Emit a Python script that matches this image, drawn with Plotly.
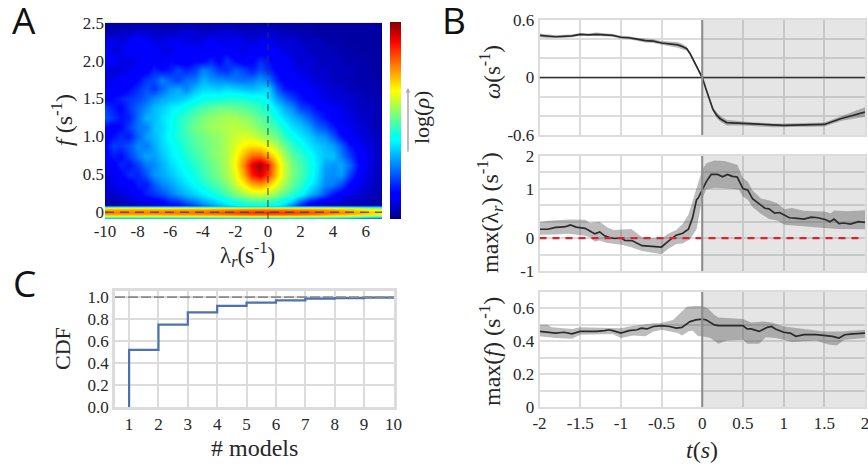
import plotly.graph_objects as go

# ---------- Panel A data ----------
A_X = [-10,-9.5,-9,-8.5,-8,-7.5,-7,-6.5,-6,-5.5,-5,-4.5,-4,-3.5,-3,-2.5,-2,-1.5,-1,-.5,0,.5,1,1.5,2,2.5,3,3.5,4,4.5,5,5.5,6,6.5,7]
A_Y = [2.5,2.375,2.25,2.125,2.0,1.875,1.75,1.625,1.5,1.375,1.25,1.125,1.0,.875,.75,.625,.5,.375,.25,.125,.075]
A_Z = [
[3,3,3,3,4,4,4,4,3,3,4,4,3,3,4,4,3,3,3,4,3,3,3,3,3,3,3,3,3,3,3,3,3,3,3],
[4,5,6,6,7,7,6,6,6,7,8,7,6,6,7,8,7,6,6,6,8,6,5,5,4,4,3,3,3,3,3,3,3,3,3],
[9,10,8,12,14,11,9,9,11,10,9,8,10,12,10,9,11,9,8,10,10,8,7,8,6,5,6,4,4,4,3,3,3,3,3],
[12,8,9,13,10,14,12,9,8,12,11,13,10,11,13,12,10,9,12,11,12,11,9,7,8,6,5,6,5,4,4,3,3,3,3],
[11,12,9,8,10,13,12,10,14,11,10,14,13,17,13,19,14,11,13,18,15,10,12,9,7,8,6,5,6,5,4,4,4,3,3],
[9,7,8,10,12,11,17,14,16,21,17,20,27,24,19,18,23,20,16,21,18,13,11,10,9,8,6,7,5,6,5,4,4,3,3],
[8,10,13,11,14,19,21,27,23,20,25,26,32,29,28,27,26,25,26,29,26,17,12,12,10,9,8,7,6,5,5,4,4,4,3],
[10,12,10,14,18,22,19,24,29,31,27,33,36,36,35,37,35,34,33,35,36,24,16,14,13,11,9,8,7,7,5,5,4,4,3],
[12,14,17,19,21,24,28,31,33,34,36,40,42,43,43,44,45,44,43,42,39,31,25,20,15,13,11,9,8,8,7,6,5,5,4],
[20,16,13,19,24,28,33,35,38,40,43,46,48,50,52,52,51,50,48,46,43,38,32,28,20,18,14,13,11,9,8,6,6,5,4],
[22,19,15,17,25,32,33,37,40,44,47,50,53,55,56,57,57,55,53,50,47,42,37,33,29,24,19,15,12,10,9,7,6,5,4],
[14,12,14,20,26,27,34,36,40,44,48,52,54,56,57,58,59,58,56,53,50,47,42,37,34,30,24,21,16,11,10,8,7,5,4],
[12,15,18,16,24,30,33,37,41,44,47,50,52,54,55,58,60,62,61,58,55,52,46,42,38,35,31,29,23,15,11,9,7,6,4],
[13,20,19,22,28,26,31,36,39,42,46,49,51,53,55,58,62,66,68,67,63,58,52,46,42,38,35,33,30,24,16,12,9,7,5],
[12,16,14,20,26,31,30,34,38,41,44,47,50,53,55,58,64,73,80,80,74,66,57,50,46,42,37,34,34,27,20,13,10,7,5],
[10,12,17,15,20,26,28,32,36,39,42,45,48,51,54,58,65,78,92,98,88,72,60,53,48,43,38,31,29,31,25,15,10,7,5],
[8,10,13,18,17,22,29,31,34,37,40,43,47,50,53,57,63,74,88,93,85,71,60,53,48,43,37,29,28,30,21,12,9,7,5],
[8,9,12,11,17,16,23,28,30,34,37,41,44,47,50,54,60,67,74,76,72,64,57,51,46,40,35,28,27,22,14,10,8,6,4],
[7,6,8,10,12,17,19,22,26,30,33,36,39,42,45,49,53,57,60,61,59,55,50,46,41,34,29,22,16,12,9,8,6,5,4],
[4,4,5,6,7,8,10,12,16,17,22,26,30,33,36,39,42,44,46,46,45,43,39,33,22,14,10,8,7,6,5,5,5,4,4],
[5,4,5,5,6,6,7,8,11,12,14,17,23,27,31,34,37,39,40,41,40,38,33,24,13,9,7,6,6,5,5,5,4,4,4],
]
BAND_X = [-10,-9,-8,-7,-6,-5,-4,-3,-2,-1,0,1,2,3,4,5,6,7]
BAND_Y = [.072,.06,.045,0,-.03,-.055,-.07,-.09]
BAND_Z = [
[33,33,33,33,33,34,34,35,35,36,36,36,35,34,33,32,31,30],
[58,58,58,58,58,58,59,60,60,61,61,61,60,59,58,55,50,46],
[73,73,73,73,73,74,74,75,76,77,77,77,76,75,73,70,66,62],
[78,78,78,78,79,79,80,82,84,85,86,85,84,82,79,76,72,69],
[74,74,74,74,75,75,76,77,79,80,80,80,79,77,74,72,68,65],
[62,61,61,61,62,62,63,63,64,65,65,65,64,63,61,58,52,48],
[44,44,44,44,44,45,45,46,46,47,47,47,46,45,44,40,36,33],
[22,22,22,22,22,22,23,23,23,24,24,24,23,22,22,18,14,11],
]
A_XTICKS = [-10,-8,-6,-4,-2,0,2,4,6]
A_XTEXT = ["-10","-8","-6","-4","-2","0","2","4","6"]
A_YTICKS = [0,.5,1,1.5,2,2.5]
A_YTEXT = ["0","0.5","1.0","1.5","2.0","2.5"]

# ---------- Panel B data ----------
OM_T = [-2,-1.9,-1.8,-1.7,-1.6,-1.5,-1.4,-1.3,-1.2,-1.1,-1,-.9,-.8,-.7,-.6,-.5,-.4,-.3,-.25,-.19,-.15,-.11,-.05,0,.05,.09,.13,.175,.22,.3,.5,.875,1.0,1.5,1.7,2]
OM_V = [.44,.43,.425,.43,.435,.45,.445,.45,.445,.44,.42,.415,.40,.385,.38,.36,.35,.34,.325,.30,.25,.18,.09,0,-.13,-.24,-.33,-.39,-.43,-.47,-.48,-.50,-.50,-.49,-.43,-.36]
OM_ERR = [.02,.02,.015,.015,.015,.015,.015,.02,.015,.015,.015,.015,.015,.02,.02,.02,.025,.03,.03,.02,.01,.01,.01,.01,.01,.01,.015,.03,.03,.03,.02,.02,.02,.02,.025,.05]

LAM_T = [-2,-1.9,-1.8,-1.7,-1.65,-1.62,-1.55,-1.44,-1.38,-1.32,-1.26,-1.2,-1.13,-1.07,-1,-.95,-.86,-.8,-.74,-.66,-.5,-.42,-.32,-.24,-.17,-.12,-.07,-.05,0,.05,.11,.19,.25,.31,.37,.43,.5,.56,.62,.7,.77,.82,.89,.95,1.01,1.07,1.17,1.25,1.34,1.42,1.52,1.57,1.62,1.68,1.74,1.82,1.92,2]
LAM_V = [.27,.27,.33,.34,.375,.40,.335,.30,.22,.13,.19,.07,.01,-.01,.01,-.07,-.08,-.15,-.23,-.24,-.27,-.10,.09,.15,.27,.61,1.17,1.22,1.49,1.72,1.94,1.94,1.87,1.94,1.88,1.86,1.51,1.46,1.19,1.03,.91,.89,.76,.78,.71,.62,.60,.58,.64,.62,.56,.50,.58,.44,.46,.43,.50,.48]
LAM_UP_T = [-2,-1.89,-1.64,-1.44,-1.38,-1.26,-1.17,-1.09,-.87,-.8,-.74,-.5,-.42,-.32,-.24,-.17,-.11,-.05,0,.05,.15,.27,.36,.43,.5,.56,.62,.72,.82,.92,1.01,1.1,1.25,1.5,1.58,1.62,1.78,2]
LAM_UP = [.48,.53,.57,.56,.46,.50,.33,.25,.28,.15,.03,-.02,.13,.25,.44,.71,1.17,1.67,2.08,2.28,2.36,2.35,2.28,2.23,1.83,1.72,1.45,1.21,1.15,1.06,.88,.92,.83,.81,.76,.84,.82,.85]
LAM_LO_T = [-2,-1.81,-1.64,-1.44,-1.38,-1.32,-1.26,-1.17,-.99,-.87,-.74,-.5,-.42,-.32,-.24,-.15,-.07,-.03,0,.05,.15,.36,.45,.5,.56,.62,.72,.82,.92,1.01,1.17,1.5,1.67,2]
LAM_LO = [.10,.11,.13,.07,.03,-.11,-.07,-.15,-.20,-.28,-.39,-.49,-.33,-.18,-.16,-.03,.27,.75,1.2,1.49,1.53,1.50,1.47,1.27,1.17,.94,.74,.58,.54,.41,.38,.31,.28,.27]
LAM_TICKS = [-1,0,1.5,2.5]
LAM_TEXT = ["-1","0","1","2"]

FM_T = [-2,-1.9,-1.8,-1.7,-1.6,-1.5,-1.4,-1.3,-1.2,-1.15,-1.1,-1,-.9,-.8,-.75,-.68,-.6,-.5,-.4,-.32,-.25,-.15,-.08,0,.05,.15,.2,.5,.55,.6,.7,.8,.85,.9,1,1.08,1.15,1.25,1.4,1.5,1.6,1.68,1.75,1.85,2]
FM_V = [.46,.455,.45,.455,.445,.46,.46,.46,.465,.47,.465,.45,.465,.47,.48,.475,.49,.495,.49,.48,.485,.52,.53,.535,.53,.50,.495,.495,.475,.475,.46,.485,.49,.475,.455,.45,.43,.44,.44,.435,.43,.42,.44,.445,.45]
FM_UP_T = [-2,-1.9,-1.85,-1.6,-1.5,-1,-.9,-.6,-.52,-.36,-.19,-.1,0,.07,.15,.2,.5,.6,.75,.85,1,1.3,1.5,1.7,2]
FM_UP = [.50,.50,.485,.475,.485,.48,.49,.51,.51,.53,.61,.615,.615,.60,.56,.545,.535,.515,.52,.515,.49,.47,.46,.46,.47]
FM_LO_T = [-2,-1.8,-1.6,-1.5,-1.1,-1,-.85,-.7,-.6,-.5,-.3,-.25,-.17,-.12,-.05,0,.1,.2,.3,.5,.55,.7,.78,.9,1,1.1,1.2,1.4,1.55,1.65,1.75,2]
FM_LO = [.43,.42,.415,.44,.445,.42,.435,.43,.46,.47,.45,.435,.46,.465,.43,.43,.42,.385,.405,.41,.385,.385,.425,.42,.41,.395,.40,.405,.38,.375,.41,.42]

T_TICKS = [-2,-1.5,-1,-.5,0,.5,1,1.5,2]
T_TEXT = ["-2","-1.5","-1","-0.5","0","0.5","1","1.5","2"]

# ---------- Panel C data ----------
N_MODELS = [1,1,2,3,4,5,6,7,8,9,10]
CDF = [0,.52,.75,.86,.92,.95,.97,.985,.99,.995,1.0]
C_YTICKS = [0,.2,.4,.6,.8,1.0]
C_YTEXT = ["0.0","0.2","0.4","0.6","0.8","1.0"]

W, H = 868, 466
SERIF = "Liberation Serif"
TXT = "#262626"
GRID = "#dcdcdc"
BAND = "rgba(70,70,70,0.36)"
LINE = "#2b2b2b"

JET = [[0,"#00007f"],[.11,"#0000ff"],[.135,"#0000ff"],[.40,"#00ffff"],[.42,"#02ffed"],[.65,"#ffff00"],[.67,"#ffee00"],[.90,"#ff0000"],[1,"#7f0000"]]

def dx(a, b):
    return [a / W, b / W]
def dy(top, bot):
    return [1 - bot / H, 1 - top / H]

fig = go.Figure()

# Panel A
fig.add_trace(go.Heatmap(x=A_X, y=A_Y, z=A_Z, zmin=0, zmax=100, colorscale=JET, zsmooth="best", xaxis="x", yaxis="y",
    hoverinfo="skip",
    colorbar=dict(x=390/W, xanchor="left", xref="paper", y=1-219/H, yanchor="bottom", yref="paper", len=196.5/H, lenmode="fraction",
                  thickness=11, xpad=0, ypad=0, outlinewidth=0, ticks="", showticklabels=False)))
fig.add_trace(go.Heatmap(x=BAND_X, y=BAND_Y, z=BAND_Z, zmin=0, zmax=100, colorscale=JET, zsmooth="best", xaxis="x", yaxis="y",
    showscale=False, hoverinfo="skip"))

def band(up_t, up, lo_t, lo, xa, ya):
    fig.add_trace(go.Scatter(x=list(up_t)+list(lo_t)[::-1], y=list(up)+list(lo)[::-1], mode="lines", fill="toself",
                             fillcolor=BAND, line=dict(width=0), xaxis=xa, yaxis=ya, hoverinfo="skip", showlegend=False))
def curve(t, v, xa, ya):
    fig.add_trace(go.Scatter(x=t, y=v, mode="lines", line=dict(color=LINE, width=1.7), xaxis=xa, yaxis=ya, hoverinfo="skip", showlegend=False))

band(OM_T, [v+e for v, e in zip(OM_V, OM_ERR)], OM_T, [v-e for v, e in zip(OM_V, OM_ERR)], "x2", "y2")
curve(OM_T, OM_V, "x2", "y2")
band(LAM_UP_T, LAM_UP, LAM_LO_T, LAM_LO, "x3", "y3")
curve(LAM_T, LAM_V, "x3", "y3")
band(FM_UP_T, FM_UP, FM_LO_T, FM_LO, "x4", "y4")
curve(FM_T, FM_V, "x4", "y4")

# Panel C
fig.add_trace(go.Scatter(x=N_MODELS, y=CDF, mode="lines", line=dict(color="#4c72b0", width=2.2, shape="hv"),
                         xaxis="x5", yaxis="y5", hoverinfo="skip", showlegend=False))

tick_font = dict(family=SERIF, size=17, color=TXT)
def framed(**kw):
    base = dict(showline=True, mirror=True, linecolor=GRID, linewidth=1.5, gridcolor=GRID, gridwidth=1.5, zeroline=False,
                ticks="", tickfont=tick_font, automargin=False, ticklabeloverflow="allow")
    base.update(kw)
    return base

bx = dx(539.5, 865)
layout = dict(
    width=W, height=H, margin=dict(l=0, r=0, t=0, b=0, autoexpand=False), paper_bgcolor="white", plot_bgcolor="white", showlegend=False,
    xaxis=dict(domain=dx(105, 382), range=[-10, 7], anchor="y", tickvals=A_XTICKS, ticktext=A_XTEXT, showgrid=False, zeroline=False, ticks="", tickfont=tick_font, showline=False),
    yaxis=dict(domain=dy(22.7, 219), range=[-.09, 2.5], anchor="x", tickvals=A_YTICKS, ticktext=A_YTEXT, showgrid=False, zeroline=False, ticks="", tickfont=tick_font, showline=False),
    xaxis2=framed(domain=bx, range=[-2, 2], anchor="y2", tickvals=T_TICKS, showticklabels=False),
    yaxis2=framed(domain=dy(20, 135), range=[-.6, .6], anchor="x2", tickvals=[-.6, 0, .6], ticktext=["-0.6", "0", "0.6"],
                  showgrid=True, minor=dict(dtick=.2, tick0=0, showgrid=True, gridcolor=GRID, gridwidth=1.5, ticks="")),
    xaxis3=framed(domain=bx, range=[-2, 2], anchor="y3", tickvals=T_TICKS, showticklabels=False),
    yaxis3=framed(domain=dy(156, 271), range=[-1, 2.5], anchor="x3", tickvals=LAM_TICKS, ticktext=LAM_TEXT,
                  minor=dict(dtick=.5, tick0=0, showgrid=True, gridcolor=GRID, gridwidth=1.5, ticks="")),
    xaxis4=framed(domain=bx, range=[-2, 2], anchor="y4", tickvals=T_TICKS, ticktext=T_TEXT),
    yaxis4=framed(domain=dy(292, 407), range=[0, .7], anchor="x4", tickvals=[0, .2, .4, .6], ticktext=["0", "0.2", "0.4", "0.6"],
                  minor=dict(dtick=.1, tick0=0, showgrid=True, gridcolor=GRID, gridwidth=1.5, ticks="")),
    xaxis5=framed(domain=dx(115, 394), range=[.52, 10.02], anchor="y5", tickvals=list(range(1, 11)), linewidth=2.5),
    yaxis5=framed(domain=dy(291, 407), range=[0, 1.055], anchor="x5", tickvals=C_YTICKS, ticktext=C_YTEXT, linewidth=2.5),
)

shapes = [
    dict(type="line", xref="x", yref="y", x0=0, x1=0, y0=-.09, y1=2.5, line=dict(color="rgba(50,50,50,.65)", width=1.4, dash="7px,5px"), layer="above"),
    dict(type="line", xref="x", yref="y", x0=-10, x1=7, y0=0, y1=0, line=dict(color="rgba(50,50,50,.7)", width=1.4, dash="9px,6px"), layer="above"),
    dict(type="line", xref="x2", yref="y2", x0=-2, x1=2, y0=0, y1=0, line=dict(color="#333333", width=1.3), layer="above"),
    dict(type="line", xref="x3", yref="y3", x0=-2, x1=1.95, y0=0, y1=0, line=dict(color="#e0202a", width=2.3, dash="7px,6px"), layer="above"),
    dict(type="line", xref="x5", yref="y5", x0=.52, x1=10.02, y0=1, y1=1, line=dict(color="#8a8a8a", width=1.8, dash="10px,3px"), layer="above"),
]
for xr, yr, top, bot in [("x2", "y2", -.6, .6), ("x3", "y3", -1, 2.5), ("x4", "y4", 0, .7)]:
    shapes.append(dict(type="rect", xref=xr, yref=yr, x0=0, x1=2, y0=top, y1=bot, fillcolor="rgba(110,110,110,.18)", line=dict(width=0), layer="between"))
    shapes.append(dict(type="line", xref=xr, yref=yr, x0=0, x1=0, y0=top, y1=bot, line=dict(color="#8c8c8c", width=2), layer="above"))
layout["shapes"] = shapes

def note(text, x, y, size=20, angle=0, family=SERIF, color=TXT, **kw):
    return dict(text=text, x=x/W, y=1-y/H, xref="paper", yref="paper", showarrow=False, textangle=angle,
                xanchor="center", yanchor="middle", font=dict(family=family, size=size, color=color), **kw)

anns = [
    note("A", 24, 19, 37, family="Open Sans", color="#111111", height=32, borderpad=0),
    note("B", 454, 19, 37, family="Open Sans", color="#111111", height=32, borderpad=0),
    note("C", 24, 282, 37, family="Open Sans", color="#111111", height=32, borderpad=0),
    note("<i>f</i> (s<sup>-1</sup>)", 62, 120, 24, -90),
    note("λ<sub><i>r</i></sub>(s<sup>-1</sup>)", 247, 255, 23),
    note("log(<i>ρ</i>)", 421, 118, 22, -90),
    note("<i>ω</i>(s<sup>-1</sup>)", 490, 72, 23, -90),
    note("max(λ<sub><i>r</i></sub>) (s<sup>-1</sup>)", 490, 213, 24, -90),
    note("max(<i>f</i>) (s<sup>-1</sup>)", 490, 352, 24, -90),
    note("<i>t</i>(<i>s</i>)", 702, 450, 24),
    note("CDF", 62, 349, 22, -90),
    note("# models", 255, 448, 24),
    dict(x=408/W, y=1-88/H, ax=0, ay=65, xref="paper", yref="paper", text="", showarrow=True,
         arrowhead=2, arrowsize=.6, arrowwidth=1.5, arrowcolor="#a8a8a8"),
]
layout["annotations"] = anns
fig.update_layout(**layout)
fig.write_html("out.html", config=dict(displayModeBar=False), post_script="document.body.style.margin='0';")
